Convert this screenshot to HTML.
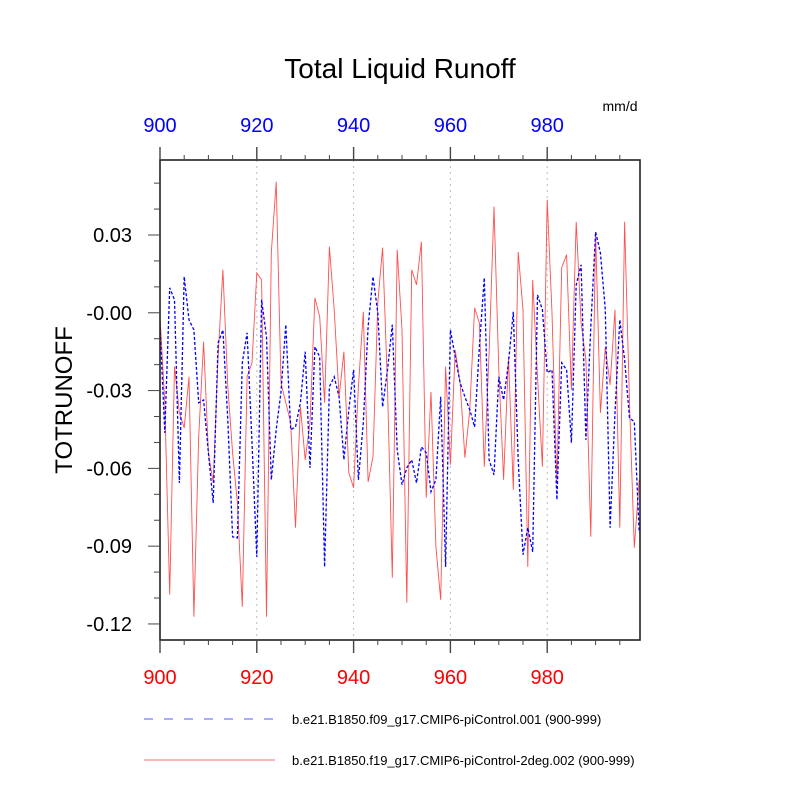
<!DOCTYPE html>
<html><head><meta charset="utf-8"><style>
html,body{margin:0;padding:0;background:#fff;}
svg{display:block;font-family:"Liberation Sans",sans-serif;}
</style></head><body>
<svg id="chart" width="800" height="800" viewBox="0 0 800 800">
<text x="400" y="78" font-size="28" text-anchor="middle">Total Liquid Runoff</text>
<text x="620" y="111" font-size="14" text-anchor="middle">mm/d</text>
<text transform="translate(72,400) rotate(-90)" font-size="24" text-anchor="middle">TOTRUNOFF</text>
<g id="grid"></g>
<g id="series"></g>
<rect x="160" y="160" width="480" height="480" fill="none" stroke="#222" stroke-width="1.6"/>
<g id="axes"></g>
<line x1="144" y1="719" x2="275" y2="719" stroke="#5a5aff" stroke-width="1" stroke-dasharray="9,11"/>
<text x="292" y="724" font-size="13">b.e21.B1850.f09_g17.CMIP6-piControl.001 (900-999)</text>
<line x1="144" y1="760" x2="275" y2="760" stroke="#f07070" stroke-width="1"/>
<text x="292" y="765" font-size="13">b.e21.B1850.f19_g17.CMIP6-piControl-2deg.002 (900-999)</text>
</svg>
<script>
const startYear = 900;
const xTickLabels = [900, 920, 940, 960, 980];
const yTickValues = [0.03, 0.00, -0.03, -0.06, -0.09, -0.12];
const yTickLabels = ["0.03", "-0.00", "-0.03", "-0.06", "-0.09", "-0.12"];
const blueSeries = [-0.0054,-0.0463,0.0096,0.0050,-0.0656,0.0139,-0.0027,-0.0066,-0.0347,-0.0336,
-0.0540,-0.0733,-0.0116,-0.0066,-0.0413,-0.0864,-0.0868,-0.0193,-0.0077,-0.0501,
-0.0941,0.0050,-0.0093,-0.0644,-0.0451,-0.0305,-0.0046,-0.0451,-0.0440,-0.0347,
-0.0150,-0.0598,-0.0131,-0.0170,-0.0980,-0.0285,-0.0247,-0.0324,-0.0567,-0.0374,
-0.0220,-0.0644,-0.0424,-0.0054,0.0139,0.0000,-0.0363,-0.0220,-0.0046,-0.0528,
-0.0663,-0.0598,-0.0567,-0.0656,-0.0517,-0.0540,-0.0690,-0.0644,-0.0324,-0.0980,
-0.0066,-0.0170,-0.0270,-0.0324,-0.0374,-0.0440,-0.0131,0.0135,-0.0567,-0.0625,
-0.0247,-0.0336,-0.0193,0.0004,-0.0567,-0.0933,-0.0829,-0.0922,0.0069,0.0012,
-0.0231,-0.0220,-0.0721,-0.0193,-0.0220,-0.0501,0.0108,0.0185,-0.0490,-0.0054,
0.0312,0.0231,0.0012,-0.0829,-0.0386,-0.0027,-0.0181,-0.0405,-0.0420,-0.0848];
const redSeries = [-0.0015,-0.0347,-0.1087,-0.0208,-0.0386,-0.0444,-0.0247,-0.1172,-0.0478,-0.0112,
-0.0540,-0.0656,-0.0170,0.0166,-0.0285,-0.0540,-0.0733,-0.1134,-0.0247,-0.0193,
0.0154,0.0127,-0.1172,0.0231,0.0505,-0.0270,-0.0347,-0.0424,-0.0829,-0.0363,
-0.0567,-0.0424,0.0058,-0.0015,-0.0347,0.0255,0.0012,-0.0324,-0.0150,-0.0617,
-0.0675,-0.0285,0.0004,-0.0652,-0.0555,0.0039,0.0251,-0.0285,-0.1022,0.0243,
-0.0066,-0.1118,0.0166,0.0108,0.0274,-0.0713,-0.0305,-0.0902,-0.1107,-0.0208,
-0.0586,-0.0143,-0.0270,-0.0559,-0.0374,0.0019,-0.0039,-0.0594,-0.0154,0.0409,
-0.0220,-0.0644,-0.0170,-0.0683,0.0235,0.0012,-0.0980,0.0127,-0.0247,-0.0594,
0.0436,0.0000,-0.0656,0.0174,0.0224,-0.0297,0.0351,-0.0039,-0.0181,-0.0864,
0.0312,-0.0386,-0.0131,-0.0278,0.0012,-0.0829,0.0351,-0.0347,-0.0906,-0.0644];

const NS = "http://www.w3.org/2000/svg";
const X0 = 160, X1 = 640, Y0 = 160, Y1 = 640;
const xScale = yr => X0 + (yr - 900) * 4.84;
const yScale = v => 235 + (0.03 - v) * 2593;
function mk(tag, attrs, parent) {
  const e = document.createElementNS(NS, tag);
  for (const k in attrs) e.setAttribute(k, attrs[k]);
  parent.appendChild(e);
  return e;
}
const grid = document.getElementById('grid');
const axes = document.getElementById('axes');
const series = document.getElementById('series');

xTickLabels.forEach(yr => {
  const x = xScale(yr);
  if (yr > 900) {
    const g = mk('line', {x1:x, y1:Y0, x2:x, y2:Y1, stroke:'#bbb', 'stroke-width':1, 'stroke-dasharray':'2,4'}, grid);
    
    
  }
  const tt = mk('line', {x1:x, y1:Y0, x2:x, y2:Y0-13, stroke:'#444', 'stroke-width':1.4}, axes);
  
  
  const bt = mk('line', {x1:x, y1:Y1, x2:x, y2:Y1+13, stroke:'#444', 'stroke-width':1.4}, axes);
  
  
  const tl = mk('text', {x:x, y:132, 'font-size':20, fill:'#0000ff', 'text-anchor':'middle'}, axes);
  tl.textContent = yr;
  
  
  const bl = mk('text', {x:x, y:684, 'font-size':20, fill:'#ff0000', 'text-anchor':'middle'}, axes);
  bl.textContent = yr;
  
  
});
for (let yr = 905; yr < 1000; yr += 5) {
  if (yr % 20 === 0) continue;
  const x = xScale(yr);
  const a = mk('line', {x1:x, y1:Y0, x2:x, y2:Y0-5, stroke:'#444', 'stroke-width':1}, axes);
  
  
  const b = mk('line', {x1:x, y1:Y1, x2:x, y2:Y1+5, stroke:'#444', 'stroke-width':1}, axes);
  
  
}
yTickValues.forEach((v, i) => {
  const y = yScale(v);
  const t = mk('line', {x1:X0, y1:y, x2:X0-12, y2:y, stroke:'#444', 'stroke-width':1}, axes);
  
  
  const l = mk('text', {x:132, y:y+7, 'font-size':20, 'text-anchor':'end'}, axes);
  l.textContent = yTickLabels[i];
  
  
});
for (let k = -12; k <= 5; k++) {
  if (k % 3 === 0) continue;
  const y = yScale(k / 100);
  if (y < Y0 || y > Y1) continue;
  const t = mk('line', {x1:X0, y1:y, x2:X0-6, y2:y, stroke:'#444', 'stroke-width':1}, axes);
  
  
}
function pts(arr) { return arr.map((v, i) => xScale(startYear + i).toFixed(1) + ',' + yScale(v).toFixed(1)).join(' '); }
const red = mk('polyline', {points:pts(redSeries), fill:'none', stroke:'#ff5050', 'stroke-width':0.9}, series);


const blue = mk('polyline', {points:pts(blueSeries), fill:'none', stroke:'#0000ff', 'stroke-width':1.3, 'stroke-dasharray':'3,2'}, series);


</script>
</body></html>
